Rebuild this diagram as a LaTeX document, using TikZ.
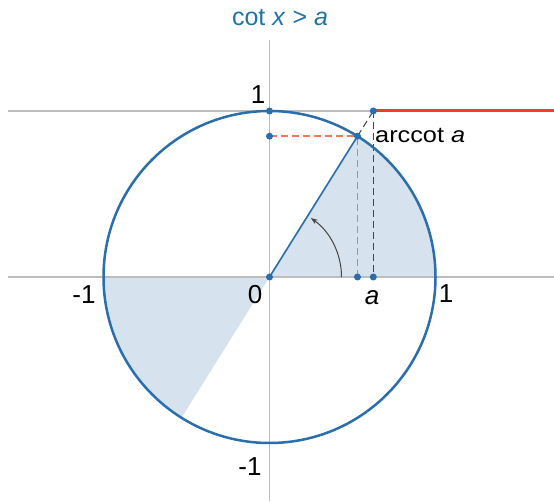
\documentclass[tikz,border=0pt]{standalone}
\usepackage{fontspec}
\setmainfont{Liberation Sans}
\usetikzlibrary{arrows.meta,calc}
\definecolor{cblue}{HTML}{2A6EAD}
\definecolor{ctitle}{HTML}{1F74A8}
\definecolor{cfill}{HTML}{D6E3EE}
\definecolor{cred}{HTML}{FF3A1A}
\definecolor{csalmon}{HTML}{F2785C}
\definecolor{caxis}{HTML}{BDBDBD}
\definecolor{cdark}{HTML}{444444}
\tikzset{
  axisline/.style={caxis, line width=1.4pt},
  dot/.style={circle, fill=cblue, inner sep=0pt, minimum size=7pt},
  numlabel/.style={font=\fontsize{26}{26}\selectfont, text=black, inner sep=0pt},
  dashred/.style={csalmon, line width=1.8pt, dash pattern=on 7pt off 4pt},
  dashgray/.style={cdark, line width=1pt, dash pattern=on 7pt off 4pt},
}
\begin{document}
\begin{tikzpicture}[x=1pt,y=1pt]
\useasboundingbox (0,0) rectangle (554,501);
\def\R{166}
\def\th{58}
\coordinate (O) at (269.5,224);
\coordinate (T) at (269.5,390);
\coordinate (P) at (357.5,364.8);
\coordinate (Py) at (269.5,364.8);
\coordinate (Px) at (357.5,224);
\coordinate (A1) at (373.3,390);
\coordinate (Ax) at (373.3,224);
\coordinate (Rend) at (554,390);
\coordinate (XL) at (8,224);
\coordinate (XR) at (554,224);
\coordinate (HL) at (8,390);
\coordinate (YB) at (269.5,0);
\coordinate (YT) at (269.5,461);
% shaded sectors
\fill[cfill] (O) -- ++(0:\R) arc[start angle=0,end angle=\th,radius=\R] -- cycle;
\fill[cfill] (O) -- ++(180:\R) arc[start angle=180,end angle=180+\th,radius=\R] -- cycle;
% axes
\draw[axisline] (XL) -- (XR);
\draw[axisline] (HL) -- (Rend);
\draw[axisline] (YB) -- (YT);
% red ray
\draw[cred, line width=3pt] (A1) -- (Rend);
% dashed helpers
\draw[dashred] (Py) -- (P);
\draw[dashred] (Px) -- (P);
\draw[dashgray] (A1) -- (Ax);
\draw[dashgray] (P) -- (A1);
% radius
\draw[cblue, line width=1.6pt] (O) -- (P);
% angle arc
\draw[cdark, line width=1pt, -{Stealth[length=7pt,width=5pt]}] ($(O)+(0:72)$) arc[start angle=0,end angle=\th-3,radius=72];
% circle
\draw[cblue, line width=2.5pt] (O) circle[radius=\R];
% dots
\foreach \p in {O,T,P,Py,Px,A1,Ax} \node[dot] at (\p) {};
% labels
\node[font=\fontsize{25}{25}\selectfont, text=ctitle] (title) at (280,483) {cot \textit{x} > \textit{a}};
\node[numlabel] (l1t) at (258,406) {1};
\node[numlabel] (l0) at (255,206) {0};
\node[numlabel] (lm1) at (84,206) {-1};
\node[numlabel] (l1r) at (446,207) {1};
\node[numlabel] (la) at (372,203) {\textit{a}};
\node[numlabel] (lm1b) at (250,34) {-1};
\node[anchor=west, inner sep=0pt, font=\fontsize{22}{22}\selectfont] (arc) at (375,366) {\scalebox{1.15}[1]{arccot \textit{a}}};
\end{tikzpicture}
\end{document}
